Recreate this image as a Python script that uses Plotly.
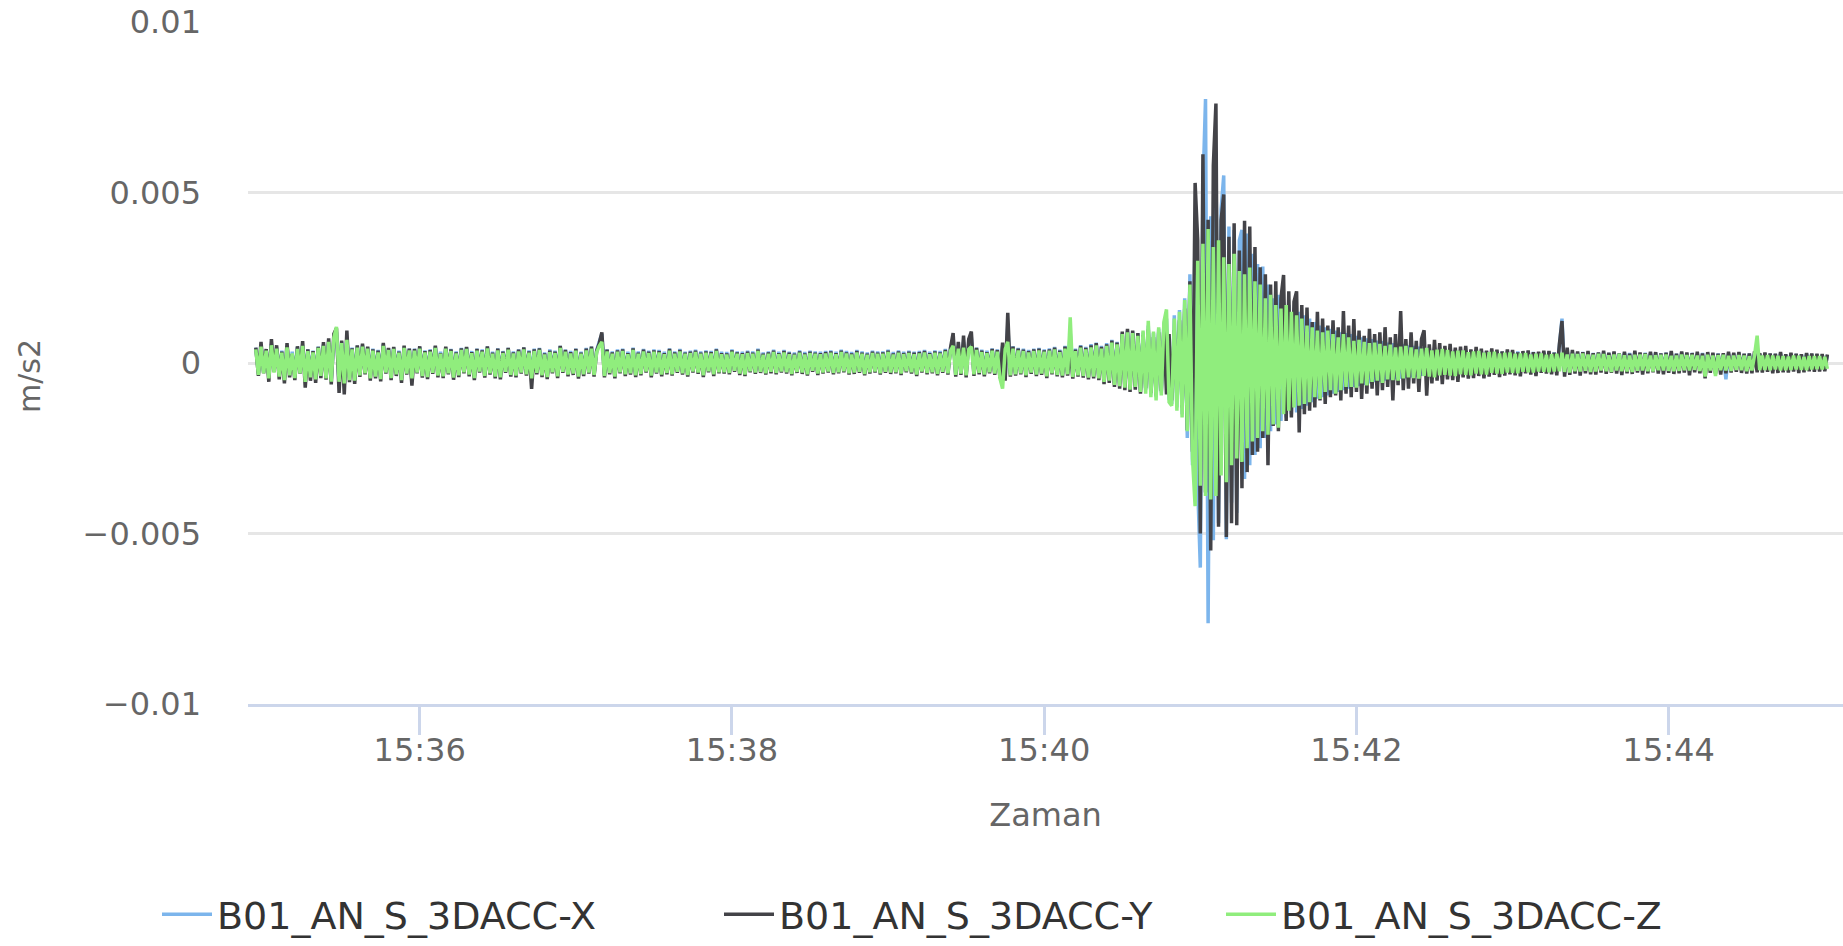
import pandas as pd
import plotly.graph_objects as go

# ---------------- data (acceleration in mm/s2, one sample per second) ----------------
START_TIME = "2023-01-01 15:34:57"
SERIES_NAMES = ["B01_AN_S_3DACC-X", "B01_AN_S_3DACC-Y", "B01_AN_S_3DACC-Z"]
SERIES_COLORS = ["#7cb5ec", "#434348", "#90ed7d"]

ACC_X = [
    .45,-.30,.50,-.25,.40,-.38,.55,-.22,.46,-.34,.36,-.42,.50,-.30,.33,-.38,.47,-.25,.52,-.45,
    .40,-.35,.36,-.42,.48,-.32,.54,-.38,.60,-.48,.70,.90,-.60,.62,-.65,.72,-.42,.45,-.46,.50,
    -.30,.52,-.25,.46,-.40,.42,-.35,.38,-.42,.55,-.24,.43,-.38,.46,-.28,.36,-.44,.48,-.26,.42,
    -.40,.42,-.24,.47,-.33,.37,-.36,.40,-.25,.49,-.32,.33,-.34,.46,-.26,.41,-.38,.34,-.31,.44,
    -.22,.46,-.30,.35,-.38,.42,-.21,.40,-.33,.48,-.26,.33,-.36,.43,-.37,.35,-.22,.44,-.30,.34,
    -.32,.40,-.24,.45,-.29,.37,-.40,.42,-.25,.44,-.31,.31,-.36,.40,-.23,.36,-.34,.50,-.22,.39,
    -.30,.35,-.27,.42,-.35,.33,-.29,.44,-.24,.48,-.31,.38,.62,.85,-.33,.40,-.25,.34,-.35,.40,
    -.23,.42,-.29,.33,-.26,.45,-.31,.34,-.28,.41,-.21,.36,-.33,.40,-.24,.38,-.30,.33,-.25,.43,
    -.29,.34,-.22,.41,-.26,.33,-.31,.36,-.21,.39,-.24,.34,-.32,.37,-.20,.35,-.29,.42,-.23,.33,
    -.23,.32,-.25,.40,-.19,.34,-.27,.33,-.30,.36,-.20,.34,-.24,.42,-.22,.31,-.26,.34,-.22,.39,
    -.25,.33,-.21,.38,-.23,.33,-.28,.31,-.22,.37,-.24,.32,-.29,.36,-.19,.34,-.27,.33,-.24,.35,
    -.21,.37,-.25,.33,-.23,.39,-.20,.35,-.26,.32,-.24,.38,-.22,.34,-.28,.31,-.23,.36,-.21,.34,
    -.26,.34,-.22,.39,-.24,.32,-.23,.37,-.27,.33,-.20,.36,-.23,.33,-.30,.35,-.21,.38,-.25,.33,
    -.23,.37,-.28,.35,-.22,.41,-.26,.43,.70,-.31,.50,-.27,.62,-.32,.55,.75,-.29,.45,-.25,.39,
    -.30,.36,-.23,.43,-.27,.40,-.38,.50,-.42,1.10,-.32,.49,-.29,.44,-.26,.42,-.32,.38,-.24,.42,
    -.30,.44,-.27,.40,-.35,.43,-.26,.47,-.31,.39,-.33,.50,-.29,.90,-.37,.42,-.32,.52,-.34,.47,
    -.39,.55,-.36,.60,-.41,.50,-.50,.58,-.48,.68,-.58,.62,-.62,.88,-.68,.95,-.72,.92,-.66,.86,
    -.80,.90,-.78,1.10,-.92,.88,-1.00,1.00,-.86,1.15,1.30,-1.05,-1.20,1.40,-1.30,1.55,-1.50,1.90,-2.20,2.60,
    -3.00,4.20,-3.60,-6.00,5.10,7.74,-7.63,4.30,-5.20,6.20,-4.70,4.50,5.50,-5.17,4.00,-4.10,3.90,-4.40,3.60,3.90,
    -3.40,3.80,-3.00,3.20,-2.70,2.90,-2.50,2.83,-2.20,2.30,-2.00,1.90,-1.80,2.00,-1.70,1.80,-1.60,1.70,-1.50,1.60,
    -1.45,1.50,-1.35,1.40,-1.25,1.30,-1.15,1.20,-1.05,1.10,-1.00,1.05,-.95,1.00,-.90,.95,-.85,.90,-.80,.88,
    -.75,.85,-.70,.80,-.68,.75,-.64,.72,-.60,.70,-.56,.66,-.55,.64,-.52,.60,-.50,.58,-.48,.56,
    -.46,.55,-.44,.52,-.42,.50,-.40,.48,-.38,.46,-.37,.45,-.35,.44,-.34,.42,-.33,.41,-.32,.40,
    -.31,.39,-.30,.38,-.29,.37,-.28,.36,-.27,.36,-.28,.35,-.26,.34,-.27,.33,-.25,.34,-.26,.33,
    -.24,.33,-.25,.32,-.23,.34,-.24,.31,-.22,.33,-.23,.32,-.21,.31,-.22,.33,-.20,.32,-.23,.31,
    -.22,.50,1.30,-.30,.34,-.22,.31,-.21,.30,-.23,.32,-.20,.31,-.22,.29,-.21,.30,-.19,.31,-.22,
    .29,-.20,.31,-.21,.28,-.22,.30,-.19,.29,-.21,.31,-.20,.28,-.22,.30,-.19,.29,-.21,.30,-.20,
    .28,-.21,.30,-.19,.29,-.22,.27,-.20,.30,-.19,.28,-.21,.29,-.18,.27,-.20,.29,-.22,.28,-.19,
    .27,-.20,.28,-.19,.26,-.48,.28,-.20,.27,-.18,.29,-.19,.26,-.20,.28,-.18,.27,-.19,.26,-.20,
    .28,-.18,.27,-.19,.26,-.17,.28,-.18,.25,-.19,.27,-.17,.26,-.18,.25,-.17,.27,-.16,.26,-.17,
    .25,-.16,.24,-.15,.23,
]

ACC_Y = [
    .45,-.38,.62,-.30,.41,-.55,.70,-.25,.52,-.48,.33,-.60,.58,-.42,.26,-.50,.49,-.31,.64,-.72,
    .40,-.52,.35,-.58,.47,-.44,.61,-.49,.72,-.63,.85,1.02,-.88,.66,-.92,.95,-.56,.43,-.61,.52,
    -.41,.57,-.33,.48,-.52,.40,-.45,.36,-.54,.59,-.31,.44,-.50,.47,-.38,.33,-.58,.51,-.34,.42,
    -.66,.41,-.30,.49,-.43,.35,-.47,.38,-.32,.51,-.42,.29,-.44,.48,-.33,.40,-.49,.31,-.41,.43,
    -.30,.47,-.39,.32,-.50,.41,-.28,.37,-.43,.49,-.34,.30,-.45,.42,-.48,.33,-.29,.44,-.40,.31,
    -.42,.39,-.31,.46,-.37,.34,-.76,.40,-.33,.43,-.41,.28,-.47,.36,-.30,.33,-.44,.50,-.29,.38,
    -.39,.32,-.35,.41,-.46,.30,-.38,.42,-.31,.48,-.40,.35,.58,.90,-.42,.39,-.33,.31,-.45,.37,
    -.30,.40,-.38,.29,-.34,.43,-.41,.30,-.36,.39,-.28,.33,-.42,.37,-.31,.35,-.39,.29,-.33,.41,
    -.37,.31,-.29,.38,-.34,.30,-.40,.33,-.28,.36,-.32,.30,-.41,.34,-.27,.32,-.38,.40,-.30,.29,
    -.31,.28,-.33,.37,-.26,.31,-.35,.29,-.38,.33,-.27,.30,-.32,.39,-.29,.27,-.34,.31,-.30,.36,
    -.33,.29,-.28,.35,-.31,.30,-.36,.27,-.29,.34,-.32,.28,-.37,.33,-.26,.30,-.35,.29,-.31,.32,
    -.28,.34,-.33,.29,-.30,.36,-.27,.31,-.34,.28,-.32,.35,-.29,.30,-.36,.27,-.31,.33,-.28,.30,
    -.34,.31,-.29,.36,-.32,.28,-.30,.34,-.35,.29,-.27,.33,-.31,.30,-.38,.32,-.28,.35,-.33,.29,
    -.30,.34,-.36,.31,-.29,.38,-.34,.45,.88,-.40,.62,-.35,.80,-.42,.70,.92,-.38,.44,-.33,.36,
    -.39,.32,-.30,.41,-.35,.38,-.44,.60,-.52,1.47,-.40,.48,-.37,.42,-.33,.39,-.41,.35,-.32,.40,
    -.38,.42,-.35,.37,-.44,.40,-.33,.45,-.39,.36,-.42,.48,-.37,.41,-.46,.39,-.40,.50,-.43,.44,
    -.48,.52,-.45,.58,-.50,.47,-.62,.55,-.58,.66,-.70,.60,-.75,.92,-.80,1.00,-.85,.95,-.78,.88,
    -.90,.82,-.74,.98,-.88,.76,-.95,.90,-.82,1.05,-.92,.85,-1.10,.96,-1.02,1.25,-1.30,1.60,-1.97,2.40,
    -2.60,5.28,3.60,-5.00,6.12,-3.80,4.20,-5.50,5.79,7.61,-4.80,4.20,4.94,-5.10,3.70,-4.70,4.10,-4.76,3.30,-3.67,
    4.17,-3.20,4.00,-2.70,3.40,-2.60,2.81,-2.20,2.60,-3.00,2.30,-1.85,2.40,-2.00,1.90,2.58,-1.70,2.10,-1.60,1.80,
    2.10,-2.04,1.70,-1.50,1.63,-1.40,1.20,-1.30,1.50,-1.10,1.30,-1.20,1.10,-1.00,1.25,-.95,1.05,-1.10,1.52,-.90,
    1.10,-1.00,1.29,-.85,.95,-1.05,.80,-.90,1.00,-.75,.85,-.95,.90,-.80,1.05,-.70,.75,-1.10,.85,-.65,
    1.52,-.80,.70,-.75,.90,-.60,.65,-.85,.70,.96,-.96,.55,-.60,.68,-.52,.58,-.62,.50,-.48,.56,
    -.50,.45,-.55,.48,-.42,.50,-.46,.40,-.44,.47,-.38,.42,-.45,.36,-.40,.43,-.35,.39,-.41,.34,
    -.37,.40,-.33,.38,-.36,.31,-.39,.35,-.30,.37,-.34,.32,-.38,.33,-.29,.36,-.31,.35,-.33,.30,
    -.36,.55,1.23,-.40,.45,-.35,.38,-.31,.34,-.37,.32,-.30,.35,-.33,.29,-.34,.31,-.28,.36,-.32,
    .30,-.29,.34,-.31,.28,-.35,.33,-.30,.27,-.32,.36,-.28,.31,-.34,.29,-.30,.33,-.27,.32,-.31,
    .28,-.33,.30,-.29,.35,-.32,.27,-.30,.34,-.28,.31,-.36,.29,-.27,.33,-.30,.28,-.45,.32,-.29,
    .30,-.31,.27,-.34,.29,-.30,.33,-.28,.30,-.26,.32,-.29,.27,-.31,.28,-.30,.34,-.27,.29,-.28,
    .31,-.26,.28,-.30,.27,-.29,.32,-.27,.26,-.28,.30,-.25,.27,-.29,.26,-.27,.29,-.24,.28,-.26,
    .27,-.25,.26,-.24,.25,
]

ACC_Z = [
    .40,-.35,.48,-.30,.36,-.45,.52,-.28,.42,-.40,.30,-.50,.46,-.36,.28,-.44,.41,-.30,.50,-.55,
    .35,-.42,.31,-.48,.44,-.38,.50,-.45,.62,-.55,.75,1.06,-.55,.58,-.60,.68,-.50,.40,-.52,.45,
    -.36,.48,-.30,.42,-.45,.36,-.40,.31,-.47,.50,-.28,.38,-.44,.41,-.33,.30,-.50,.44,-.31,.37,
    -.45,.36,-.28,.42,-.38,.31,-.41,.33,-.29,.44,-.37,.27,-.39,.42,-.30,.35,-.43,.28,-.36,.38,
    -.27,.41,-.34,.29,-.44,.36,-.25,.33,-.38,.43,-.30,.27,-.40,.37,-.42,.29,-.26,.39,-.35,.28,
    -.37,.34,-.28,.40,-.33,.30,-.45,.35,-.29,.38,-.36,.25,-.41,.32,-.27,.29,-.39,.44,-.26,.33,
    -.34,.28,-.31,.36,-.40,.27,-.33,.37,-.28,.42,-.35,.31,.50,.62,-.38,.34,-.29,.27,-.40,.33,
    -.27,.35,-.33,.26,-.30,.38,-.36,.27,-.32,.34,-.25,.29,-.37,.33,-.28,.31,-.34,.26,-.29,.36,
    -.33,.27,-.26,.34,-.30,.27,-.35,.29,-.25,.32,-.28,.27,-.36,.30,-.24,.28,-.33,.35,-.27,.26,
    -.27,.25,-.29,.33,-.23,.27,-.31,.26,-.34,.29,-.24,.27,-.28,.35,-.26,.24,-.30,.27,-.26,.32,
    -.29,.26,-.25,.31,-.27,.26,-.32,.24,-.26,.30,-.28,.25,-.33,.29,-.23,.27,-.31,.26,-.28,.28,
    -.25,.30,-.29,.26,-.27,.32,-.24,.28,-.30,.25,-.28,.31,-.26,.27,-.32,.24,-.27,.29,-.25,.27,
    -.30,.27,-.26,.32,-.28,.25,-.27,.30,-.31,.26,-.24,.29,-.27,.26,-.34,.28,-.25,.31,-.29,.26,
    -.27,.30,-.32,.28,-.26,.34,-.30,.36,.50,-.35,.42,-.31,.45,-.36,.40,.48,-.33,.38,-.29,.32,
    -.34,.29,-.27,.36,-.31,.33,-.45,-.75,.40,.62,-.36,.42,-.33,.37,-.30,.35,-.36,.31,-.28,.35,
    -.34,.37,-.31,.33,-.39,.36,-.30,.40,-.35,.32,-.37,.42,-.33,1.34,-.41,.35,-.36,.45,-.38,.40,
    -.43,.46,-.40,.52,-.45,.42,-.55,.50,-.52,.60,-.64,.55,-.68,.85,-.72,.90,-.78,.88,-.70,.80,
    -.85,.95,-.90,1.24,-1.00,.92,-1.10,1.05,-.95,1.20,1.57,-1.15,-1.25,1.30,-1.40,1.50,-1.60,1.85,-2.00,2.30,
    -2.80,-4.20,3.00,-3.60,3.50,-3.90,3.93,-4.00,3.40,-3.90,3.60,-3.30,3.10,-3.50,2.90,-3.00,3.20,-2.80,2.70,-2.90,
    2.60,-2.50,2.80,-2.30,2.40,-2.20,2.30,-2.00,1.90,-2.10,2.00,-1.80,1.70,-1.90,1.60,-1.50,1.70,-1.40,1.50,-1.30,
    1.40,-1.25,1.30,-1.20,1.10,-1.15,1.05,-1.00,.95,-1.05,.90,-.85,.95,-.80,.85,-.90,.75,-.80,.85,-.70,
    .75,-.70,.65,-.72,.68,-.60,.62,-.66,.58,-.55,.60,-.52,.56,-.58,.50,-.48,.54,-.50,.46,-.52,
    .48,-.45,.50,-.42,.46,-.44,.40,-.46,.42,-.38,.44,-.40,.37,-.42,.39,-.36,.41,-.35,.38,-.37,
    .34,-.38,.36,-.33,.37,-.35,.32,-.36,.34,-.31,.35,-.33,.30,-.34,.32,-.29,.33,-.31,.28,-.32,
    .30,-.28,.31,-.29,.27,-.30,.28,-.26,.29,-.27,.25,-.28,.27,-.25,.28,-.26,.24,-.27,.26,-.25,
    .27,-.24,.30,-.26,.25,-.28,.27,-.24,.26,-.25,.28,-.23,.25,-.26,.24,-.25,.27,-.22,.26,-.24,
    .23,-.26,.25,-.22,.27,-.24,.23,-.25,.22,-.26,.24,-.23,.25,-.22,.26,-.24,.22,-.25,.23,-.21,
    .24,-.22,.25,-.23,.21,-.24,.22,-.23,.25,-.21,.23,-.22,.24,-.20,.22,-.23,.21,-.40,.24,-.22,
    .22,-.38,.23,-.21,.24,-.22,.21,-.23,.22,-.20,.23,-.21,.22,-.24,.20,-.22,.23,.80,-.21,.22,
    -.20,.23,-.21,.22,-.19,.21,-.22,.20,-.21,.19,-.20,.22,-.19,.21,-.20,.18,-.21,.20,-.19,.20,
    -.18,.20,-.19,.18,-.17,
]

Y_TICKS = [-0.01, -0.005, 0, 0.005, 0.01]
X_TICKS = ["15:36", "15:38", "15:40", "15:42", "15:44"]
X_RANGE = ["2023-01-01 15:34:54", "2023-01-01 15:45:07"]

# ---------------- figure ----------------
LEGEND_IDS = ["legend", "legend2", "legend3"]
LEGEND_X_PX = [157, 719, 1221]

fig = go.Figure()
for name, color, vals, lg in zip(SERIES_NAMES, SERIES_COLORS, [ACC_X, ACC_Y, ACC_Z], LEGEND_IDS):
    t = pd.date_range(START_TIME, periods=len(vals), freq="1s")
    fig.add_trace(go.Scatter(
        x=t, y=[v / 1000.0 for v in vals], name=name, mode="lines", legend=lg,
        line=dict(color=color, width=3.5, simplify=False),
    ))

legend_font = dict(family="DejaVu Sans", size=38, color="#333333")
legends = {}
for lg, xpx in zip(LEGEND_IDS, LEGEND_X_PX):
    legends[lg] = dict(
        orientation="h", xref="container", yref="container",
        x=xpx / 1843, y=0, xanchor="left", yanchor="bottom",
        font=legend_font, itemwidth=50, bgcolor="rgba(0,0,0,0)",
    )

tick_font = dict(family="DejaVu Sans", size=32, color="#666666")
fig.update_layout(
    width=1843, height=946,
    paper_bgcolor="white", plot_bgcolor="white",
    margin=dict(l=248, r=0, t=22, b=242),
    showlegend=True,
    **legends,
    xaxis=dict(
        type="date", range=X_RANGE,
        tickvals=["2023-01-01 " + s for s in X_TICKS], ticktext=X_TICKS,
        showgrid=False, zeroline=False,
        showline=True, linecolor="#ccd6eb", linewidth=3,
        ticks="outside", ticklen=28, tickwidth=3, tickcolor="#ccd6eb",
        tickfont=tick_font, ticklabelstandoff=-12,
        title=dict(text="Zaman", font=dict(family="DejaVu Sans", size=32, color="#666666"), standoff=36),
    ),
    yaxis=dict(
        range=[-0.01, 0.01], tickvals=Y_TICKS,
        showgrid=True, gridcolor="#e6e6e6", gridwidth=2.5,
        zeroline=False, showline=False,
        tickfont=tick_font, ticklabelstandoff=46,
    ),
    annotations=[dict(
        text="m/s2", textangle=-90, showarrow=False,
        xref="paper", yref="paper",
        x=(29 - 248) / 1595, y=(704 - 376) / 682,
        xanchor="center", yanchor="middle",
        font=dict(family="DejaVu Sans", size=30, color="#666666"),
    )],
)

fig.write_html("out.html")
